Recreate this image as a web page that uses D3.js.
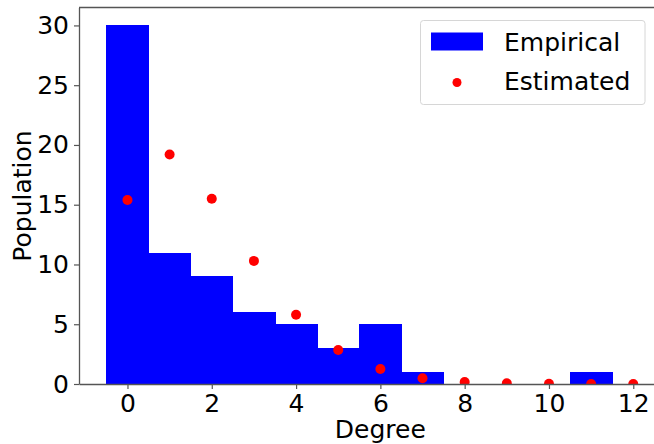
<!DOCTYPE html>
<html lang="en">
<head>
    <meta charset="utf-8" />
    <script src="https://d3js.org/d3.v7.min.js"></script>
    <style>
        body { margin: 0; background: #fff; }
        text { font-family: "DejaVu Sans", sans-serif; fill: #000; }
    </style>
</head>
<body>
    <script>
        // Histogram of degrees (bins centred on integers) and estimated counts
        const degrees   = [0, 1, 2, 3, 4, 5, 6, 7, 8, 9, 10, 11, 12];
        const empirical = [30, 11, 9, 6, 5, 3, 5, 1, 0, 0, 0, 1, 0];
        const estimated = [15.4, 19.2, 15.5, 10.3, 5.8, 2.85, 1.25, 0.48, 0.17, 0.06, 0.02, 0.006, 0.002];
        const xTicks = [0, 2, 4, 6, 8, 10, 12];
        const yTicks = [0, 5, 10, 15, 20, 25, 30];

        const width = 654, height = 444;
        const padLeft = 79, padTop = 7.5, baseY = 384;

        const svg = d3.select("body").append("svg")
            .attr("width", width)
            .attr("height", height);

        const xScale = d3.scaleLinear().domain([-1.15, 13.15]).range([padLeft, padLeft + 14.3 * 42.15]);
        const yScale = d3.scaleLinear().domain([0, 31.5]).range([baseY, padTop]);

        svg.append("clipPath").attr("id", "plot-clip")
            .append("rect")
            .attr("x", xScale.range()[0]).attr("y", padTop)
            .attr("width", xScale.range()[1] - xScale.range()[0])
            .attr("height", baseY - padTop);

        const plot = svg.append("g").attr("clip-path", "url(#plot-clip)");

        // bars
        plot.selectAll("rect.bar")
            .data(degrees)
            .enter()
            .append("rect")
            .attr("class", "bar")
            .attr("x", d => xScale(d - 0.5))
            .attr("width", d => xScale(d + 0.5) - xScale(d - 0.5) + 0.6)
            .attr("y", (d, i) => yScale(empirical[i]))
            .attr("height", (d, i) => baseY - yScale(empirical[i]))
            .attr("fill", "#0000ff")
            .attr("shape-rendering", "crispEdges");

        // estimated points
        plot.selectAll("circle")
            .data(degrees)
            .enter()
            .append("circle")
            .attr("cx", d => xScale(d))
            .attr("cy", (d, i) => yScale(estimated[i]))
            .attr("r", 5)
            .attr("fill", "#ff0000");

        // axes
        const xAxis = d3.axisBottom(xScale).tickValues(xTicks).tickFormat(d3.format("d"))
            .tickSize(5).tickPadding(5).tickSizeOuter(0);
        const yAxis = d3.axisLeft(yScale).tickValues(yTicks).tickFormat(d3.format("d"))
            .tickSize(5).tickPadding(5).tickSizeOuter(0);

        const gx = svg.append("g")
            .attr("transform", "translate(0," + baseY + ")")
            .call(xAxis);
        const gy = svg.append("g")
            .attr("transform", "translate(" + padLeft + ",0)")
            .call(yAxis);

        [gx, gy].forEach(g => {
            g.select(".domain").attr("stroke", "#555").attr("stroke-width", 1.3);
            g.selectAll(".tick line").attr("stroke", "#555").attr("stroke-width", 1.2);
            g.selectAll(".tick text").style("font-family", "DejaVu Sans").style("font-size", "25px");
        });

        // top and right spines
        svg.append("line")
            .attr("x1", padLeft).attr("x2", xScale.range()[1])
            .attr("y1", padTop).attr("y2", padTop)
            .attr("stroke", "#555").attr("stroke-width", 1.3);
        svg.append("line")
            .attr("x1", xScale.range()[1]).attr("x2", xScale.range()[1])
            .attr("y1", padTop).attr("y2", baseY)
            .attr("stroke", "#555").attr("stroke-width", 1.3);

        // axis labels
        svg.append("text")
            .attr("x", xScale(6))
            .attr("y", 438)
            .attr("text-anchor", "middle")
            .style("font-size", "25px")
            .text("Degree");
        svg.append("text")
            .attr("transform", "translate(31," + 196 + ") rotate(-90)")
            .attr("text-anchor", "middle")
            .style("font-size", "25px")
            .text("Population");

        // legend
        const legend = svg.append("g").attr("id", "legend");
        legend.append("rect")
            .attr("x", 420.5).attr("y", 20.5)
            .attr("width", 224.5).attr("height", 84)
            .attr("rx", 3)
            .attr("fill", "#fff").attr("fill-opacity", 0.8)
            .attr("stroke", "#d6d6d6");
        legend.append("rect")
            .attr("x", 431).attr("y", 32.5)
            .attr("width", 52).attr("height", 18)
            .attr("fill", "#0000ff");
        legend.append("circle")
            .attr("cx", 457).attr("cy", 82.5).attr("r", 4.5)
            .attr("fill", "#ff0000");
        legend.append("text")
            .attr("x", 504).attr("y", 50.5)
            .style("font-size", "25px")
            .text("Empirical");
        legend.append("text")
            .attr("x", 504).attr("y", 90)
            .style("font-size", "25px")
            .text("Estimated");
    </script>
</body>
</html>
